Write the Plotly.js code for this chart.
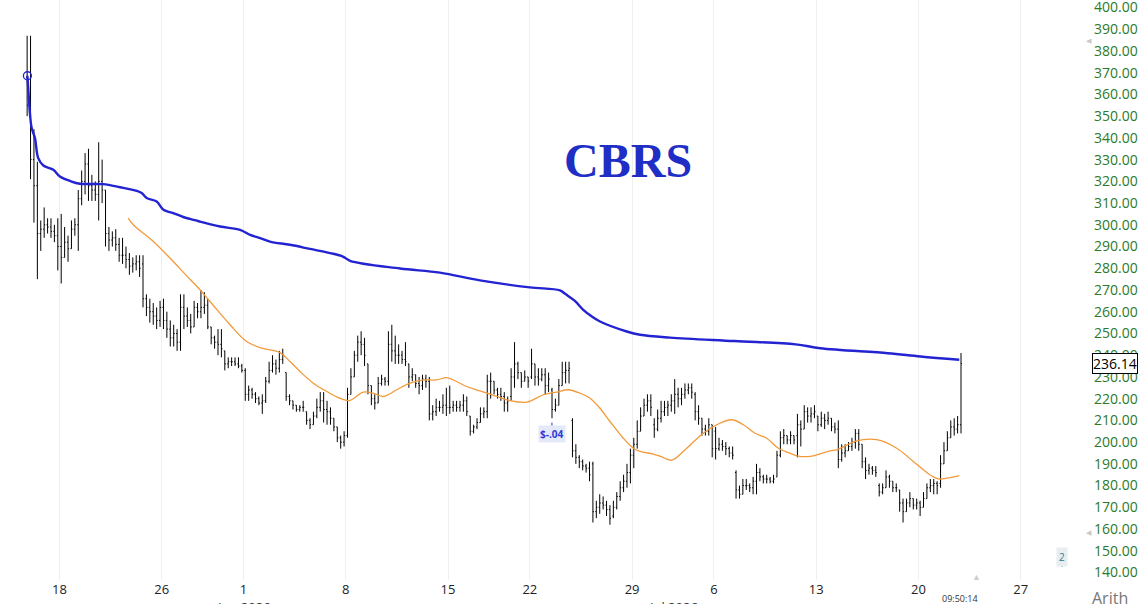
<!DOCTYPE html>
<html><head><meta charset="utf-8">
<script src="https://cdn.plot.ly/plotly-3.0.1.min.js"></script>
<style>html,body{margin:0;padding:0;background:#fff;overflow:hidden}#chart{width:1142px;height:604px}</style>
</head><body><div id="chart"></div>
<script>
const symbol = 'CBRS';
const tradingDays = ['2026-05-14','2026-05-15','2026-05-18','2026-05-19','2026-05-20','2026-05-21','2026-05-22','2026-05-26','2026-05-27','2026-05-28','2026-05-29',
 '2026-06-01','2026-06-02','2026-06-03','2026-06-04','2026-06-05','2026-06-08','2026-06-09','2026-06-10','2026-06-11','2026-06-12','2026-06-15','2026-06-16','2026-06-17','2026-06-18','2026-06-22','2026-06-23','2026-06-24','2026-06-25','2026-06-26','2026-06-29','2026-06-30',
 '2026-07-01','2026-07-02','2026-07-06','2026-07-07','2026-07-08','2026-07-09','2026-07-10','2026-07-13','2026-07-14','2026-07-15','2026-07-16','2026-07-17','2026-07-20','2026-07-21','2026-07-22',
 '2026-07-23','2026-07-24','2026-07-27'];
const tickDates = ['2026-05-18','2026-05-26','2026-06-01','2026-06-08','2026-06-15','2026-06-22','2026-06-29','2026-07-06','2026-07-13','2026-07-20','2026-07-27'];
const tickText = ['18','26','1','8','15','22','29','6','13','20','27'];
const monthDates = ['2026-06-01','2026-07-01'];
const monthText = ['Jun 2026','Jul 2026'];
const barsPerDay = 6;
const firstDaySlot = 2;   // IPO opened mid-session
const lastPrice = 236.14;
const lastTime = '09:50:14';
const epsDate = '2026-06-23';
const epsText = '$-.04';

const dayOpens = [368,296,290,312,320,286,282,262,262,262,242,233,219,232,214,215,203,236,228,236,228,216,212,228,221,230,224,210,190,166,194,208,219,222,205,186,182,184,203,212,206,204,180,178,172,181,208];
const highs = [
 [387,387,344,329],[302,308,303,303,300,303],[305,299,295,302,303,316],[325,333,335,323,320,338],[330,316,299,297,298,294],
 [294,290,287,285,286,286],[286,268,266,264,262,265],[266,260,256,254,252,268],[268,262,259,265,264,270],[269,266,253,249,252,252],
 [242,239,239,239,239,236],[234,226,225,223,221,222],[230,237,240,238,242,243],[232,222,219,217,217,219],[214,211,214,220,223,223],
 [219,216,211,207,203,205],[225,234,242,249,251,248],[236,224,222,230,231,230],[251,254,249,245,242,246],[236,234,230,230,231,231],
 [230,217,220,219,222,225],[226,219,219,219,222,221],[212,208,211,216,216,231],[232,228,225,225,223,221],[234,246,237,232,233,230],
 [243,236,234,234,234,232],[225,220,229,237,237,237],[211,199,194,192,190,191],[191,173,176,175,173,171],[173,177,182,185,190,197],
 [202,210,216,220,222,222],[211,215,219,219,219,222],[229,225,225,227,227,227],[223,217,211,208,211,208],[207,202,201,200,198,198],
 [187,180,183,183,181,184],[190,188,185,185,184,185],[196,205,206,203,205,202],[213,210,217,216,216,217],[211,214,213,214,211,209],
 [210,199,199,200,202,206],[206,196,193,190,189,189],[181,181,187,185,182,181],[178,174,174,177,174,174],[173,177,181,183,183,182],
 [194,200,205,210,211,212],[241]];
const lows = [
 [350,321,301,275],[288,294,296,294,292,279],[273,285,283,292,295,288],[309,314,311,311,311,302],[310,290,288,290,288,283],
 [282,280,277,278,279,276],[262,258,255,254,252,253],[252,248,244,244,242,242],[252,253,250,257,257,257],[259,252,245,243,240,239],
 [233,234,235,235,234,232],[219,219,220,218,217,213],[218,227,232,231,232,236],[219,217,215,214,214,214],[208,206,208,211,214,209],
 [208,208,205,200,197,198],[202,222,230,237,240,235],[222,217,215,218,226,226],[226,237,236,236,236,235],[225,228,225,222,224,225],
 [210,210,212,214,213,212],[213,214,214,214,214,212],[203,204,206,209,211,211],[220,222,220,219,214,214],[219,225,229,225,228,225],
 [229,226,226,228,222,223],[211,214,217,226,227,227],[193,190,188,187,186,182],[163,165,167,169,166,162],[165,169,173,177,179,181],
 [188,197,205,212,214,212],[202,205,209,212,212,214],[213,216,217,220,222,220],[210,208,203,203,203,193],[192,196,196,194,193,192],
 [174,174,176,178,177,176],[176,182,181,181,181,181],[184,193,199,199,199,199],[193,198,208,209,209,211],[205,207,206,208,205,204],
 [188,191,193,196,196,197],[196,188,183,185,185,184],[175,176,179,179,177,177],[168,163,170,170,169,169],[166,170,174,177,176,176],
 [179,192,196,203,203,204],[204]];
const closes = [
 [355,330,318,296],[298,300,299,297,295,290],[285,292,289,298,300,312],[320,328,318,316,314,320],[316,296,293,294,291,286],
 [286,284,281,282,283,280],[266,262,260,258,256,262],[256,252,248,250,246,262],[258,256,253,262,260,262],[263,253,248,246,245,243],
 [236,237,237,236,235,233],[222,224,222,220,218,219],[228,233,236,234,238,240],[221,219,217,215,216,216],[210,208,212,216,219,215],
 [214,211,207,202,200,203],[222,230,240,246,245,240],[226,220,218,227,229,228],[245,242,240,240,238,237],[230,231,227,226,229,228],
 [213,214,216,216,217,216],[216,217,216,217,219,214],[205,207,209,213,214,228],[228,224,222,221,218,219],[230,236,232,228,230,228],
 [236,230,229,231,226,229],[215,217,226,232,233,234],[196,193,191,189,188,185],[168,170,172,171,169,165],[170,175,179,182,186,194],
 [199,205,212,217,219,216],[206,211,214,216,217,219],[222,220,222,224,225,223],[214,211,206,205,208,197],[197,199,198,197,195,194],
 [178,176,180,180,179,182],[186,184,183,183,182,183],[194,202,203,201,203,201],[208,206,214,212,213,214],[208,211,210,211,207,206],
 [192,195,196,198,200,204],[199,191,187,188,187,186],[177,179,184,182,179,179],[172,168,172,174,171,172],[170,174,179,180,181,180],
 [190,196,202,207,206,208],[236.14]];

// anchored VWAP (session position, value)
const vwapPos = [0.43,0.47,0.56,0.64,0.80,0.96,1.21,1.70,2.02,2.51,3.00,4.13,4.96,5.78,6.02,6.26,6.75,7.08,7.56,8.05,8.38,8.87,9.85,10.83,11.32,11.81,12.29,13.27,14.25,15.23,15.86,16.21,
 18.65,20.6,22.56,25.0,26.47,26.76,27.2,27.6,28.0,28.43,29.74,30.39,31.85,35.0,38.0,39.2,42.5,44.1,46.0];
const vwapVal = [368.6,362.9,350.6,344.5,339.9,330.7,327.3,325.3,322.2,320.2,318.9,318.7,317.3,315.6,314.6,312.3,310.7,306.9,305.4,303.6,302.7,301.5,299.2,297.7,295.4,293.9,292.3,290.8,288.9,287.0,285.4,283.4,
 279.9,278.0,274.4,271.2,269.8,268.0,265.0,261.0,258.0,255.5,250.9,249.4,248.1,246.5,245.0,243.2,240.9,239.4,237.9];
// moving average
const maPos = [5.36,5.61,6.59,7.40,8.22,8.87,9.36,10.34,11.15,11.89,12.78,13.27,13.76,14.41,15.07,15.70,16.18,16.86,17.34,17.83,18.49,19.14,19.79,20.44,20.93,21.42,21.91,22.56,23.38,24.03,24.85,25.66,26.31,26.88,27.45,27.94,28.43,28.92,29.57,30.06,30.39,31.04,31.40,31.94,32.67,33.48,34.14,34.87,35.44,36.01,36.58,37.15,37.72,38.05,38.70,39.68,40.0,40.98,41.96,42.94,43.75,44.57,44.97,45.38,46.0];
const maVal = [303.1,300,292.3,284.7,276.5,270.1,264.7,254,246.3,243.2,241.2,237.1,232.5,227.1,223.3,220.2,219.1,223,222.5,221,224.1,227.1,228.6,228.6,229.7,227.9,225.6,223.6,221,219.1,218.4,221.8,223,224.1,222.5,220.2,215.6,209.5,201.8,197.2,195.7,194.5,193.4,191.7,197.2,204.1,208,210.3,208,204.1,201.8,197.2,194.9,193.7,193.4,196,196.4,200.6,201.1,197.2,191.1,184.9,183.1,183.4,184.6];

const X=[],O=[],H=[],L=[],C=[];
highs.forEach((hs,d)=>{
  let o = dayOpens[d];
  const start = d===0 ? firstDaySlot : 0;
  hs.forEach((h,k)=>{
    const c = closes[d][k], l = lows[d][k];
    X.push(d + (start+k+0.5)/barsPerDay);
    O.push(o); H.push(Math.max(h,o,c)); L.push(Math.min(l,o,c)); C.push(c);
    o = c;
  });
});
const dayIndex = s => tradingDays.indexOf(s);

const traces = [
  {type:'ohlc', x:X, open:O, high:H, low:L, close:C, hoverinfo:'skip', tickwidth:0.3,
   increasing:{line:{color:'#000',width:1}}, decreasing:{line:{color:'#000',width:1}}, showlegend:false},
  {type:'scatter', mode:'lines', x:maPos, y:maVal, line:{color:'#f29a3a',width:1.3,shape:'spline'}, hoverinfo:'skip', showlegend:false},
  {type:'scatter', mode:'lines', x:vwapPos, y:vwapVal, line:{color:'#2323d2',width:2.4,shape:'spline'}, hoverinfo:'skip', showlegend:false},
  {type:'scatter', mode:'markers', x:[vwapPos[0]], y:[vwapVal[0]], marker:{symbol:'circle-open',size:8,color:'#2323d2',line:{width:1.3}}, hoverinfo:'skip', showlegend:false}
];

const W = 1087, PH = 580;   // plot area size in px
const pxPerUnit = 2.1731;
const yTop = 400 + 7.5/pxPerUnit, yBot = 400 - (PH-7.5)/pxPerUnit;
const epsX = dayIndex(epsDate) + 0.08;
const px = v => v/W, py = v => (PH - v)/PH;
const note = (x, y, text, font, extra) => Object.assign({xref:'paper', yref:'paper', x:px(x), y:py(y), xanchor:'center', yanchor:'middle', text, showarrow:false, font}, extra||{});

const layout = {
  width:1142, height:604, paper_bgcolor:'#fff', plot_bgcolor:'#fff',
  margin:{l:0, r:1142-W, t:0, b:604-PH},
  title:{text:'<b>'+symbol+'</b>', font:{family:'Liberation Serif, Times New Roman, serif', size:48, color:'#1f2ec4'},
         x:0.55, xanchor:'center', xref:'container', y:1-160/604, yanchor:'middle', yref:'container'},
  xaxis:{range:[-0.91, 2+(W-59.5)/20.45], tickvals:tickDates.map(dayIndex), ticktext:tickText,
         showgrid:true, gridcolor:'#efefef', gridwidth:1, zeroline:false, showline:false, ticks:'',
         tickfont:{family:'Open Sans, Noto Sans, sans-serif', size:13, color:'#222'}, rangeslider:{visible:false}, fixedrange:true},
  yaxis:{side:'right', range:[yBot,yTop], dtick:10, tick0:0, tickformat:'.2f', showgrid:false, zeroline:false, showline:false, ticks:'',
         ticklabeloverflow:'allow', ticklabelstandoff:6,
         tickfont:{family:'Open Sans, Noto Sans, sans-serif', size:14, color:'#2b7a2b'}, fixedrange:true},
  shapes:[
    {type:'line', xref:'x', yref:'y', x0:epsX, x1:epsX, y0:207.3, y1:209.0, line:{color:'#2a3bd6',width:1}},
    {type:'line', xref:'paper', yref:'paper', x0:px(1062), x1:px(1062), y0:py(563), y1:py(567), line:{color:'#2a7f8f',width:1}}
  ],
  annotations:[
    {xref:'x', yref:'y', x:epsX, y:203.7, xanchor:'center', yanchor:'middle', text:'<b>'+epsText+'</b>', showarrow:false, font:{family:'Open Sans, sans-serif', size:10, color:'#2a3bd6'}, bgcolor:'#e3e9f8', borderpad:1},
    {xref:'paper', yref:'y', x:1, xanchor:'left', yanchor:'middle', xshift:5, y:lastPrice, text:lastPrice.toFixed(2), showarrow:false,
     font:{family:'Open Sans, Noto Sans, sans-serif', size:14, color:'#000'}, bgcolor:'#fff', bordercolor:'#000', borderwidth:1, borderpad:0},
    ...monthDates.map((d,i)=>({xref:'x', yref:'paper', x:dayIndex(d), y:py(607), xanchor:'center', yanchor:'middle', text:monthText[i], showarrow:false,
     font:{family:'Open Sans, sans-serif', size:13, color:'#333'}})),
    note(960, 598, lastTime, {family:'Open Sans, sans-serif', size:9, color:'#333'}),
    note(976, 576, '▲', {size:9, color:'#cfcfcf'}),
    note(1062, 557, '2', {family:'Open Sans, sans-serif', size:10, color:'#2a7f8f'}, {bgcolor:'#e8eef0', borderpad:2}),
    note(1089, 40, '◀', {size:7, color:'#c8c8c8'}),
    note(1089, 532, '◀', {size:7, color:'#c8c8c8'}),
    note(1110, 598, 'Arith', {family:'Open Sans, sans-serif', size:16, color:'#777'})
  ]
};
Plotly.newPlot('chart', traces, layout, {displayModeBar:false, staticPlot:true});
</script></body></html>
